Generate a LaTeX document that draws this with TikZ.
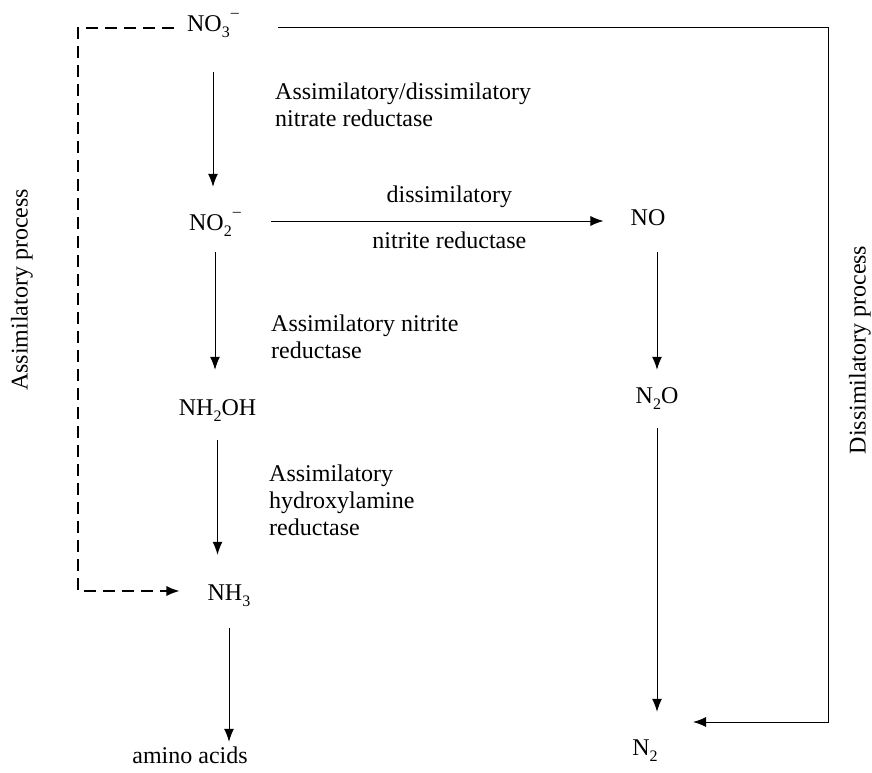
\documentclass[tikz,border=0pt]{standalone}
\usepackage{fontspec}
\setmainfont{Liberation Serif}
\usepackage{tikz}
\usetikzlibrary{arrows.meta,positioning,calc}

\newcommand\lowsub[1]{\raisebox{-6pt}{\fontsize{16}{16}\selectfont #1}}
\newcommand\ionsup{\kern1pt\raisebox{14pt}{\fontsize{16}{16}\selectfont --}}

\tikzset{
  chem/.style={inner sep=0pt, anchor=base, text height=20pt, text depth=2pt},
  note/.style={inner sep=0pt, anchor=base west, align=left},
  flow/.style={-{Latex[length=13pt,width=10pt]}, line width=1pt},
  assimflow/.style={flow, line width=1.3pt, dash pattern=on 12pt off 7pt},
  dissimflow/.style={flow},
}

\begin{document}
\begin{tikzpicture}[x=1pt, y=-1pt, every node/.style={font=\fontsize{24}{27}\selectfont}]
  \useasboundingbox (0,0) rectangle (872,773);

  % species
  \node[chem] (no3) at (213,32) {NO\lowsub{3}\ionsup};
  \node[chem] (no2) at (215,230) {NO\lowsub{2}\ionsup};
  \node[chem] (nh2oh) at (217.5,415) {NH\lowsub{2}OH};
  \node[chem] (nh3) at (229,600) {NH\lowsub{3}};
  \node[chem] (amino) at (190,763) {amino acids};
  \node[chem] (no) at (648,225) {NO};
  \node[chem] (n2o) at (657,403) {N\lowsub{2}O};
  \node[chem] (n2) at (645,755) {N\lowsub{2}};

  % enzymes (anchored at the last line)
  \node[note] (nitrate) at (275,127) {Assimilatory/dissimilatory\\nitrate reductase};
  \node[note] (assnitrite) at (271,358) {Assimilatory nitrite\\reductase};
  \node[note] (hydroxyl) at (269,535) {Assimilatory\\hydroxylamine\\reductase};

  % process labels
  \node[rotate=90] (assimlabel) at (22,290) {Assimilatory process};
  \node[rotate=90] (dissimlabel) at (860,350) {Dissimilatory process};

  % assimilatory chain
  \draw[flow, shorten <=38pt, shorten >=23pt] (no3.south) -- (no3.south |- no2.north);
  \draw[flow, shorten <=20pt, shorten >=25pt] (no2.south) -- (no2.south |- nh2oh.north);
  \draw[flow, shorten <=23pt, shorten >=25pt] (nh2oh.south) -- (nh2oh.south |- nh3.north);
  \draw[flow, shorten <=26pt, shorten >=1pt] (nh3.south) -- (nh3.south |- amino.north);

  % dissimilatory chain
  \draw[flow, shorten <=30pt, shorten >=27pt] (no2.east) -- (no2.east -| no.west)
    node[pos=0.535, above=13pt, inner sep=0pt] (dislabel) {dissimilatory}
    node[pos=0.535, below=10.5pt, inner sep=0pt] (nirlabel) {nitrite reductase};
  \draw[flow, shorten <=25pt, shorten >=13pt] (no.south -| n2o.center) -- (n2o.north);
  \draw[flow, shorten <=23pt, shorten >=23pt] (n2o.south) -- (n2o.south |- n2.north);

  % side routes
  \coordinate (ass-corner) at (78,28);
  \coordinate (dis-corner) at (828,28);
  \coordinate (dis-tip) at (693,722);
  \draw[assimflow, shorten <=13pt, shorten >=28pt] (no3.west |- ass-corner) -- (ass-corner) |- (nh3.west);
  \draw[dissimflow, shorten <=39pt] (no3.east |- dis-corner) -- (dis-corner) |- (dis-tip);
\end{tikzpicture}
\end{document}
